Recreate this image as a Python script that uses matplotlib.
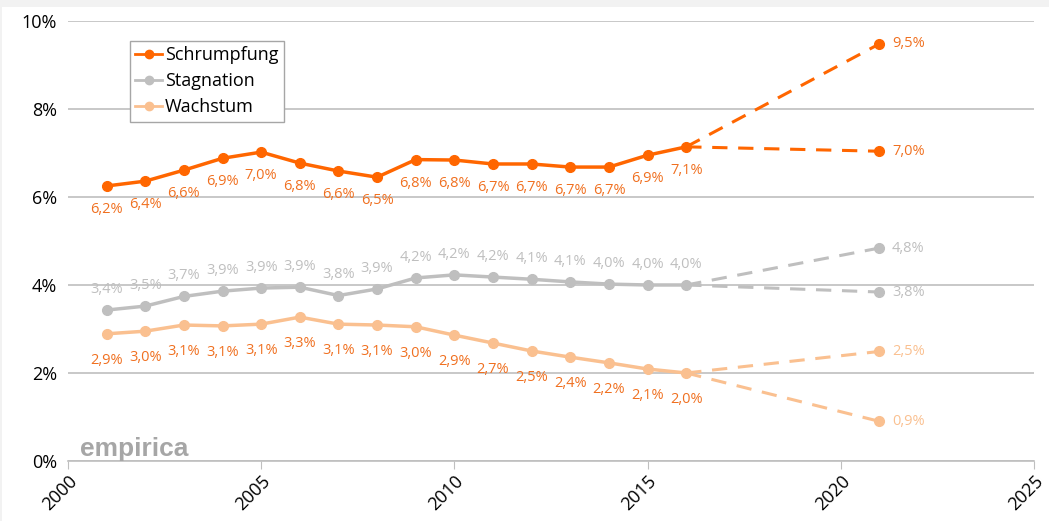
import matplotlib
matplotlib.use("Agg")
import matplotlib.pyplot as plt
from matplotlib.patches import Rectangle

# data
years = [2001, 2002, 2003, 2004, 2005, 2006, 2007, 2008,
         2009, 2010, 2011, 2012, 2013, 2014, 2015, 2016]
schrumpf = [6.25, 6.36, 6.61, 6.88, 7.02, 6.77, 6.59, 6.45,
            6.85, 6.84, 6.75, 6.75, 6.68, 6.68, 6.95, 7.14]
schrumpf_lbl = ["6,2%", "6,4%", "6,6%", "6,9%", "7,0%", "6,8%", "6,6%", "6,5%",
                "6,8%", "6,8%", "6,7%", "6,7%", "6,7%", "6,7%", "6,9%", "7,1%"]
stagn = [3.43, 3.52, 3.74, 3.86, 3.93, 3.95, 3.76, 3.91,
         4.16, 4.23, 4.18, 4.13, 4.07, 4.02, 4.00, 4.00]
stagn_lbl = ["3,4%", "3,5%", "3,7%", "3,9%", "3,9%", "3,9%", "3,8%", "3,9%",
             "4,2%", "4,2%", "4,2%", "4,1%", "4,1%", "4,0%", "4,0%", "4,0%"]
wachs = [2.89, 2.95, 3.09, 3.07, 3.11, 3.27, 3.11, 3.09,
         3.05, 2.86, 2.68, 2.50, 2.36, 2.23, 2.09, 2.00]
wachs_lbl = ["2,9%", "3,0%", "3,1%", "3,1%", "3,1%", "3,3%", "3,1%", "3,1%",
             "3,0%", "2,9%", "2,7%", "2,5%", "2,4%", "2,2%", "2,1%", "2,0%"]

proj_year = 2021
schrumpf_proj = [9.48, 7.04]
schrumpf_proj_lbl = ["9,5%", "7,0%"]
stagn_proj = [4.84, 3.84]
stagn_proj_lbl = ["4,8%", "3,8%"]
wachs_proj = [2.49, 0.90]
wachs_proj_lbl = ["2,5%", "0,9%"]

c_orange = "#FF6600"
c_orange_txt = "#F07020"
c_gray = "#BFBFBF"
c_light = "#FAC090"

plt.rcParams["font.family"] = ["Open Sans", "DejaVu Sans"]

fig = plt.figure(figsize=(10.49, 5.21), dpi=100, facecolor="#F2F2F2")
fig.patches.append(Rectangle((2 / 1049, 0), 1, (521 - 7) / 521, transform=fig.transFigure,
                             facecolor="white", edgecolor="none", zorder=-10))
ax = fig.add_axes([0.0648, 0.1152, 0.9209, 0.8445])
ax.set_facecolor("none")

series = [
    ("Schrumpfung", schrumpf, schrumpf_lbl, schrumpf_proj, schrumpf_proj_lbl, c_orange, c_orange_txt, c_orange_txt, -17),
    ("Stagnation", stagn, stagn_lbl, stagn_proj, stagn_proj_lbl, c_gray, c_gray, c_gray, 15),
    ("Wachstum", wachs, wachs_lbl, wachs_proj, wachs_proj_lbl, c_light, c_orange_txt, c_light, -19),
]

for name, vals, lbls, proj, proj_lbl, col, tcol, pcol, dy in series:
    ax.plot(years, vals, color=col, lw=2.5, marker="o", ms=7, label=name, zorder=3)
    for x, y, t in zip(years, vals, lbls):
        ax.annotate(t, (x, y), xytext=(0, dy), textcoords="offset points",
                    ha="center", va="center", color=tcol, fontsize=10.5)
    for y, t in zip(proj, proj_lbl):
        ax.plot([years[-1], proj_year], [vals[-1], y], color=col, lw=2.2,
                ls=(0, (5, 3.5)), zorder=2)
        ax.plot([proj_year], [y], color=col, marker="o", ms=7, zorder=3)
        ax.annotate(t, (proj_year, y), xytext=(9, 0), textcoords="offset points",
                    ha="left", va="center", color=pcol, fontsize=10.5)

ax.set_xlim(2000, 2025)
ax.set_ylim(0, 10)
ax.set_yticks([0, 2, 4, 6, 8, 10])
ax.set_yticklabels(["0%", "2%", "4%", "6%", "8%", "10%"], fontsize=13)
ax.set_xticks([2000, 2005, 2010, 2015, 2020, 2025])
ax.set_xticklabels(["2000", "2005", "2010", "2015", "2020", "2025"],
                   rotation=45, ha="right", rotation_mode="anchor", fontsize=13)
ax.yaxis.grid(True, color=c_gray, lw=1.2)
ax.set_axisbelow(True)
for s in ["top", "right", "left"]:
    ax.spines[s].set_visible(False)
ax.spines["bottom"].set_color(c_gray)
ax.spines["bottom"].set_linewidth(1.2)
ax.tick_params(axis="y", length=0, pad=8)
ax.tick_params(axis="x", length=6, color=c_gray, pad=2)

ax.text(0.012, 0.0, "empirica", transform=ax.transAxes, fontsize=19,
        fontweight="bold", color="#A6A6A6", ha="left", va="bottom",
        family=["Liberation Sans", "DejaVu Sans"])

leg = ax.legend(loc="upper left", bbox_to_anchor=(0.064, 0.955), fontsize=13,
                frameon=True, fancybox=False, edgecolor="#A6A6A6", framealpha=1,
                handlelength=1.5, handletextpad=0.15, borderpad=0.3,
                labelspacing=0.45, borderaxespad=0)
leg.get_frame().set_linewidth(1.0)
for h in leg.legend_handles:
    h.set_markersize(6)
    h.set_linewidth(2)

fig.savefig("out.png", dpi=100, facecolor=fig.get_facecolor())
